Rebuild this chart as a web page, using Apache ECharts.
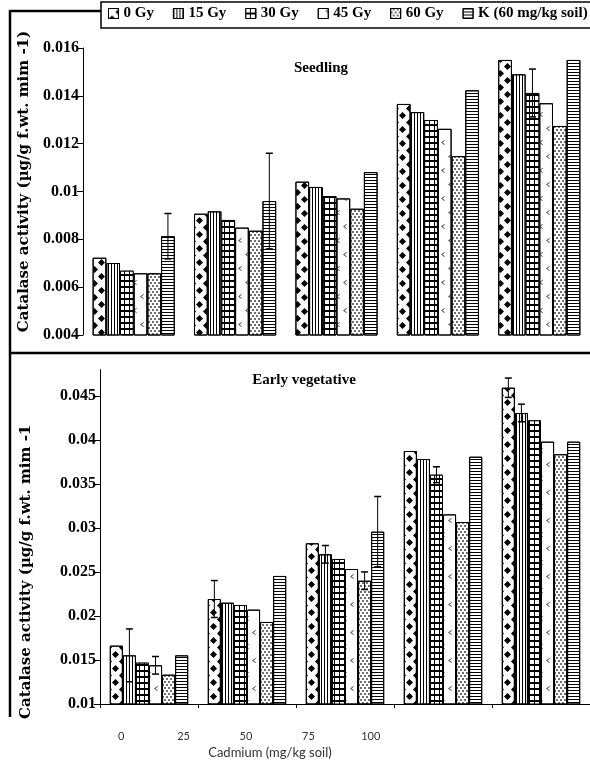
<!DOCTYPE html>
<html><head><meta charset="utf-8">
<script src="https://cdn.jsdelivr.net/npm/echarts@6/dist/echarts.min.js"></script>
<style>html,body{margin:0;padding:0;background:#fff}#c{width:590px;height:762px}</style>
</head><body><div id="c"></div>
<script>
// ---------- data ----------
const cadmium = ['0', '25', '50', '75', '100'];
const doses = ['0 Gy', '15 Gy', '30 Gy', '45 Gy', '60 Gy', 'K (60 mg/kg soil)'];

// Seedling
const seed0Gy  = [0.00723, 0.00907, 0.01041, 0.01366, 0.01550];
const seed15Gy = [0.00701, 0.00917, 0.01019, 0.01332, 0.01490];
const seed30Gy = [0.00669, 0.00881, 0.00981, 0.01299, 0.01412];
const seed45Gy = [0.00658, 0.00849, 0.00971, 0.01262, 0.01369];
const seed60Gy = [0.00658, 0.00836, 0.00928, 0.01148, 0.01274];
const seedK    = [0.00813, 0.00960, 0.01081, 0.01423, 0.01550];
const seedErr0Gy  = [0, 0, 0, 0, 0];
const seedErr15Gy = [0, 0, 0, 0, 0];
const seedErr30Gy = [0, 0, 0, 0, 0.0010];
const seedErr45Gy = [0, 0, 0, 0, 0];
const seedErr60Gy = [0, 0, 0, 0, 0];
const seedErrK    = [0.00095, 0.0020, 0, 0, 0];

// Early vegetative
const ev0Gy  = [0.01663, 0.02193, 0.02826, 0.03875, 0.04594];
const ev15Gy = [0.01553, 0.02151, 0.02701, 0.03784, 0.04307];
const ev30Gy = [0.01470, 0.02125, 0.02648, 0.03606, 0.04224];
const ev45Gy = [0.01440, 0.02072, 0.02534, 0.03155, 0.03981];
const ev60Gy = [0.01333, 0.01932, 0.02401, 0.03068, 0.03838];
const evK    = [0.01553, 0.02455, 0.02958, 0.03810, 0.03981];
const evErr0Gy  = [0, 0.0021, 0, 0, 0.0011];
const evErr15Gy = [0.0030, 0, 0.0010, 0, 0.0010];
const evErr30Gy = [0, 0, 0, 0.0009, 0];
const evErr45Gy = [0.0010, 0, 0, 0, 0];
const evErr60Gy = [0, 0, 0.0010, 0, 0];
const evErrK    = [0, 0, 0.0040, 0, 0];

const evTicks = [0.01, 0.015, 0.02, 0.025, 0.03, 0.035, 0.04, 0.045];
const xLabels = ['0', '25', '50', '75', '100'];

// ---------- styles ----------
const serif = 'Liberation Serif';
const baseColors = ['#ffffff', '#ffffff', '#000000', '#ffffff', '#ffffff', '#ffffff'];
const decals = [
  { symbol: 'diamond', color: '#000', dashArrayX: [[7, 7], [0, 7, 7, 0]], dashArrayY: [7, 0], symbolSize: 1 },
  { symbol: 'rect', color: '#000', dashArrayX: [1, 2], dashArrayY: [4, 0], symbolSize: 1 },
  { symbol: 'rect', color: '#fff', dashArrayX: [4, 1], dashArrayY: [4, 2], symbolSize: 1 },
  { symbol: 'path://M6,0L7,1L2.5,4.5L7,8L6,9L0,4.5Z', color: '#444', dashArrayX: [[4, 10], [0, 7, 4, 3]], dashArrayY: [5, 9], symbolSize: 1 },
  { symbol: 'rect', color: '#000', dashArrayX: [[2, 2], [0, 2, 2, 0]], dashArrayY: [2, 1], symbolSize: 0.75 },
  { symbol: 'rect', color: '#000', dashArrayX: [20, 0], dashArrayY: [1, 2], symbolSize: 1 }
];

const seedVals = [seed0Gy, seed15Gy, seed30Gy, seed45Gy, seed60Gy, seedK];
const seedErrs = [seedErr0Gy, seedErr15Gy, seedErr30Gy, seedErr45Gy, seedErr60Gy, seedErrK];
const evVals = [ev0Gy, ev15Gy, ev30Gy, ev45Gy, ev60Gy, evK];
const evErrs = [evErr0Gy, evErr15Gy, evErr30Gy, evErr45Gy, evErr60Gy, evErrK];

const GAP = 0.2;

function barSeries(vals, idx, axis, gap) {
  return {
    name: doses[idx], type: 'bar', xAxisIndex: axis, yAxisIndex: axis,
    data: vals, barGap: '0%', barCategoryGap: (gap * 100) + '%',
    itemStyle: { color: baseColors[idx], borderColor: '#000', borderWidth: 1, decal: decals[idx] },
    emphasis: { disabled: true }, animation: false
  };
}
function errSeries(vals, errs, idx, axis, gap) {
  const data = [];
  vals.forEach((v, i) => { if (errs[i] > 0) data.push([i, v, errs[i]]); });
  return {
    type: 'custom', xAxisIndex: axis, yAxisIndex: axis, z: 10, silent: true, animation: false,
    data: data, encode: { x: 0, y: 1 },
    renderItem(params, api) {
      const i = api.value(0), v = api.value(1), e = api.value(2);
      const band = api.size([1, 0])[0];
      const bw = band * (1 - gap) / 6;
      const x = api.coord([i, v])[0] + (idx - 2.5) * bw;
      const yt = api.coord([i, v + e])[1];
      const yb = api.coord([i, v - e])[1];
      const c = 3.5;
      return { type: 'group', children: [
        { type: 'line', shape: { x1: x, y1: yt, x2: x, y2: yb }, style: { stroke: '#000', lineWidth: 1 } },
        { type: 'line', shape: { x1: x - c, y1: yt, x2: x + c, y2: yt }, style: { stroke: '#000', lineWidth: 1.5 } },
        { type: 'line', shape: { x1: x - c, y1: yb, x2: x + c, y2: yb }, style: { stroke: '#000', lineWidth: 1.5 } }
      ] };
    }
  };
}

const series = [];
seedVals.forEach((v, k) => series.push(barSeries(v, k, 0, 0.19)));
evVals.forEach((v, k) => series.push(barSeries(v, k, 1, GAP)));
seedVals.forEach((v, k) => { if (seedErrs[k].some(e => e > 0)) series.push(errSeries(v, seedErrs[k], k, 0, 0.19)); });
evVals.forEach((v, k) => { if (evErrs[k].some(e => e > 0)) series.push(errSeries(v, evErrs[k], k, 1, GAP)); });

const labelStyle = { fontFamily: serif, fontWeight: 'bold', fontSize: 16, color: '#000', margin: 4 };
const nameStyle = { fontFamily: 'DejaVu Serif', fontWeight: 'bold', fontSize: 15, color: '#000' };

const option = {
  backgroundColor: '#fff',
  animation: false,
  legend: {
    data: doses, left: 108, top: 6, itemWidth: 10, itemHeight: 10, itemGap: 19, padding: 0, z: 10,
    icon: 'rect',
    itemStyle: { borderColor: '#000', borderWidth: 1 },
    textStyle: { fontFamily: serif, fontWeight: 'bold', fontSize: 15, color: '#000' },
    selectedMode: false
  },
  grid: [
    { left: 83, top: 48, width: 515, height: 287 },
    { left: 100, top: 369.6, width: 500, height: 334.4 },
    { left: 90, top: 722, width: 312, height: 1 }
  ],
  xAxis: [
    { type: 'category', gridIndex: 0, data: cadmium, axisLine: { show: false }, axisTick: { show: false }, axisLabel: { show: false } },
    { type: 'category', gridIndex: 1, data: cadmium, axisLine: { show: true, lineStyle: { color: '#000', width: 1 } },
      axisTick: { show: true, length: 4, lineStyle: { color: '#000' } }, axisLabel: { show: false } },
    { type: 'category', gridIndex: 2, data: xLabels, axisLine: { show: false }, axisTick: { show: false },
      axisLabel: { show: true, fontFamily: 'Lato', fontSize: 11, color: '#333', margin: 8 } }
  ],
  yAxis: [
    { type: 'value', gridIndex: 0, min: 0.004, max: 0.016, interval: 0.002,
      axisLine: { show: true, lineStyle: { color: '#000', width: 1 } },
      axisTick: { show: true, length: 6, lineStyle: { color: '#000' } },
      splitLine: { show: false }, axisLabel: labelStyle,
      name: 'Catalase activity (µg/g f.wt. mim -1)', nameLocation: 'middle', nameGap: 50,
      nameTextStyle: Object.assign({ padding: [0, 0, 0, 20] }, nameStyle) },
    { type: 'value', gridIndex: 1, min: 0.01, max: 0.048,
      axisLine: { show: true, lineStyle: { color: '#000', width: 1 } },
      axisTick: { show: true, length: 6, lineStyle: { color: '#000' }, customValues: evTicks },
      splitLine: { show: false }, axisLabel: Object.assign({ customValues: evTicks }, labelStyle),
      name: 'Catalase activity (µg/g f.wt. mim -1', nameLocation: 'middle', nameGap: 66,
      nameTextStyle: Object.assign({ padding: [0, 70, 0, 0] }, nameStyle) },
    { type: 'value', gridIndex: 2, show: false }
  ],
  graphic: [
    { type: 'line', z: 1, shape: { x1: 10, y1: 11, x2: 592, y2: 11 }, style: { stroke: '#000', lineWidth: 2.5 } },
    { type: 'line', z: 1, shape: { x1: 10, y1: 10, x2: 10, y2: 717 }, style: { stroke: '#000', lineWidth: 2.5 } },
    { type: 'line', z: 1, shape: { x1: 10, y1: 353, x2: 592, y2: 353 }, style: { stroke: '#000', lineWidth: 2.5 } },
    { type: 'rect', z: 2, shape: { x: 101, y: 2, width: 500, height: 26 }, style: { fill: '#fff', stroke: '#000', lineWidth: 1.5 } },
    { type: 'text', z: 5, x: 321, y: 68, style: { text: 'Seedling', font: 'bold 15px "Liberation Serif"', fill: '#000', textAlign: 'center', textVerticalAlign: 'middle' } },
    { type: 'text', z: 5, x: 304, y: 380, style: { text: 'Early vegetative', font: 'bold 15px "Liberation Serif"', fill: '#000', textAlign: 'center', textVerticalAlign: 'middle' } },
    { type: 'text', z: 5, x: 270, y: 753, style: { text: 'Cadmium (mg/kg soil)', font: '13px Lato', fill: '#333', textAlign: 'center', textVerticalAlign: 'middle' } }
  ],
  series: series
};

const chart = echarts.init(document.getElementById('c'), null, { renderer: 'canvas' });
chart.setOption(option);
</script>
</body></html>
